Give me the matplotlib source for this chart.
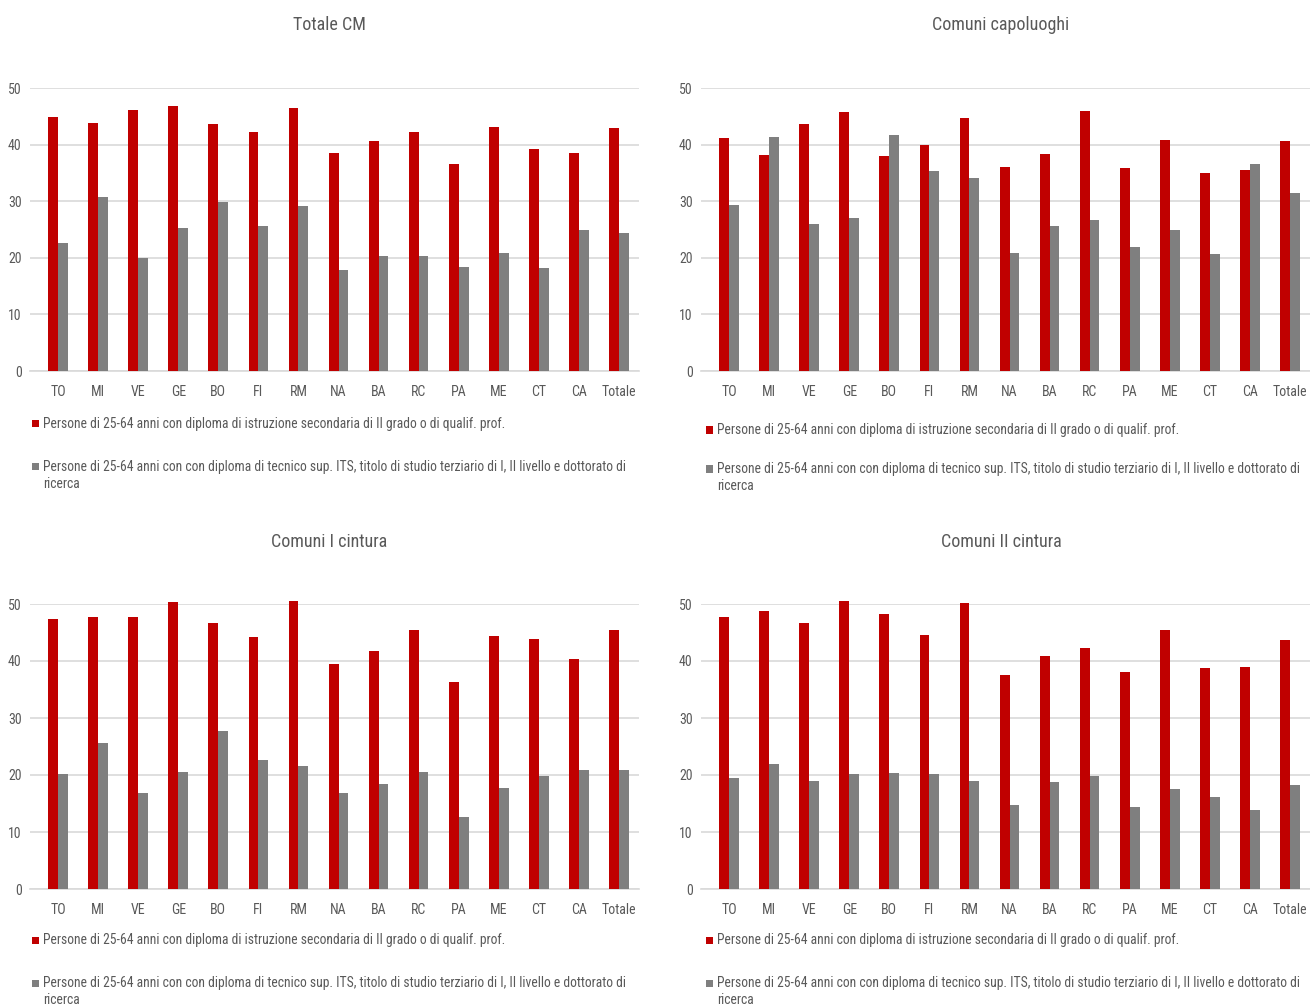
import matplotlib
matplotlib.use("Agg")
import matplotlib.pyplot as plt
from matplotlib.patches import Rectangle
import numpy as np

plt.rcParams['font.family'] = ['Roboto Condensed', 'Liberation Sans Narrow', 'Roboto', 'DejaVu Sans']

categories = ["TO", "MI", "VE", "GE", "BO", "FI", "RM", "NA", "BA", "RC", "PA", "ME", "CT", "CA", "Totale"]

titles = ["Totale CM", "Comuni capoluoghi", "Comuni I cintura", "Comuni II cintura"]

label_sec = "Persone di 25-64 anni con diploma di istruzione secondaria di II grado o di qualif. prof."
label_ter = ("Persone di 25-64 anni con con diploma di tecnico sup. ITS, titolo di studio terziario di I, II livello e dottorato di\n"
             "ricerca")

# Totale CM
cm_sec = [44.9, 43.9, 46.1, 46.9, 43.7, 42.3, 46.5, 38.5, 40.6, 42.3, 36.6, 43.1, 39.3, 38.5, 42.9]
cm_ter = [22.7, 30.7, 19.9, 25.3, 29.9, 25.7, 29.2, 17.9, 20.4, 20.4, 18.4, 20.8, 18.2, 24.9, 24.4]
# Comuni capoluoghi
cap_sec = [41.2, 38.2, 43.6, 45.7, 37.9, 39.9, 44.7, 36.0, 38.4, 45.9, 35.9, 40.9, 34.9, 35.6, 40.7]
cap_ter = [29.4, 41.4, 25.9, 27.1, 41.7, 35.4, 34.1, 20.8, 25.6, 26.7, 21.9, 24.9, 20.6, 36.6, 31.4]
# Comuni I cintura
c1_sec = [47.4, 47.7, 47.7, 50.3, 46.6, 44.2, 50.6, 39.5, 41.7, 45.5, 36.4, 44.3, 43.9, 40.4, 45.5]
c1_ter = [20.1, 25.6, 16.8, 20.5, 27.7, 22.7, 21.5, 16.8, 18.5, 20.5, 12.7, 17.8, 19.8, 20.8, 20.8]
# Comuni II cintura
c2_sec = [47.8, 48.8, 46.6, 50.6, 48.3, 44.5, 50.1, 37.6, 40.9, 42.3, 38.1, 45.5, 38.7, 38.9, 43.7]
c2_ter = [19.5, 21.9, 19.0, 20.1, 20.3, 20.1, 19.0, 14.7, 18.8, 19.8, 14.3, 17.5, 16.2, 13.9, 18.2]

panels = [(cm_sec, cm_ter), (cap_sec, cap_ter), (c1_sec, c1_ter), (c2_sec, c2_ter)]

RED = "#C00000"
GRAY = "#7F7F7F"
GRID = "#D9D9D9"
TXT = "#595959"

W, H = 1310, 1005
fig = plt.figure(figsize=(W / 100, H / 100), dpi=100)
fig.patch.set_facecolor("white")

# panel geometry in pixels: (left, top_of_plot, bottom_of_plot)
geo = [(30, 88, 371), (701, 88, 371), (30, 604, 889), (701, 604, 889)]
title_pos = [(329, 25), (1001, 25), (329, 542), (1001, 542)]
legend_y = [(424, 467), (430, 469), (940, 983), (940, 983)]
legend_x = [32, 706, 32, 706]
axw = 609

x = np.arange(len(categories))
bw = 0.245

for i, ((sec, ter), (l, t, b)) in enumerate(zip(panels, geo)):
    ax = fig.add_axes([l / W, 1 - b / H, axw / W, (b - t) / H])
    ax.bar(x - bw / 2, sec, width=bw, color=RED, zorder=3, clip_on=False)
    ax.bar(x + bw / 2, ter, width=bw, color=GRAY, zorder=3, clip_on=False)
    ax.set_xlim(-0.7, 14.5)
    ax.set_ylim(0, 50)
    ax.set_yticks([0, 10, 20, 30, 40, 50])
    ax.set_xticks(x)
    ax.set_xticklabels(categories)
    ax.yaxis.grid(True, color=GRID, linewidth=1.2, zorder=0)
    ax.set_axisbelow(True)
    for s in ["top", "right", "left"]:
        ax.spines[s].set_visible(False)
    ax.spines["bottom"].set_color(GRID)
    ax.spines["bottom"].set_linewidth(1.2)
    ax.tick_params(axis="both", length=0, colors=TXT, labelsize=10)
    ax.tick_params(axis="x", pad=10)
    ax.tick_params(axis="y", pad=6)

    tx, ty = title_pos[i]
    fig.text(tx / W, 1 - ty / H, titles[i], ha="center", va="center", fontsize=13, color=TXT)

    lx = legend_x[i]
    y1, y2 = legend_y[i]
    for yy, col, lab in [(y1, RED, label_sec), (y2, GRAY, label_ter)]:
        fig.add_artist(Rectangle((lx / W, 1 - (yy + 3.5) / H), 7 / W, 7 / H,
                                 transform=fig.transFigure, facecolor=col, edgecolor="none"))
        fig.text((lx + 11) / W, 1 - (yy - 7) / H, lab, ha="left", va="top",
                 fontsize=9.8, color=TXT, linespacing=1.3)

fig.savefig("out.png", dpi=100, facecolor="white")
